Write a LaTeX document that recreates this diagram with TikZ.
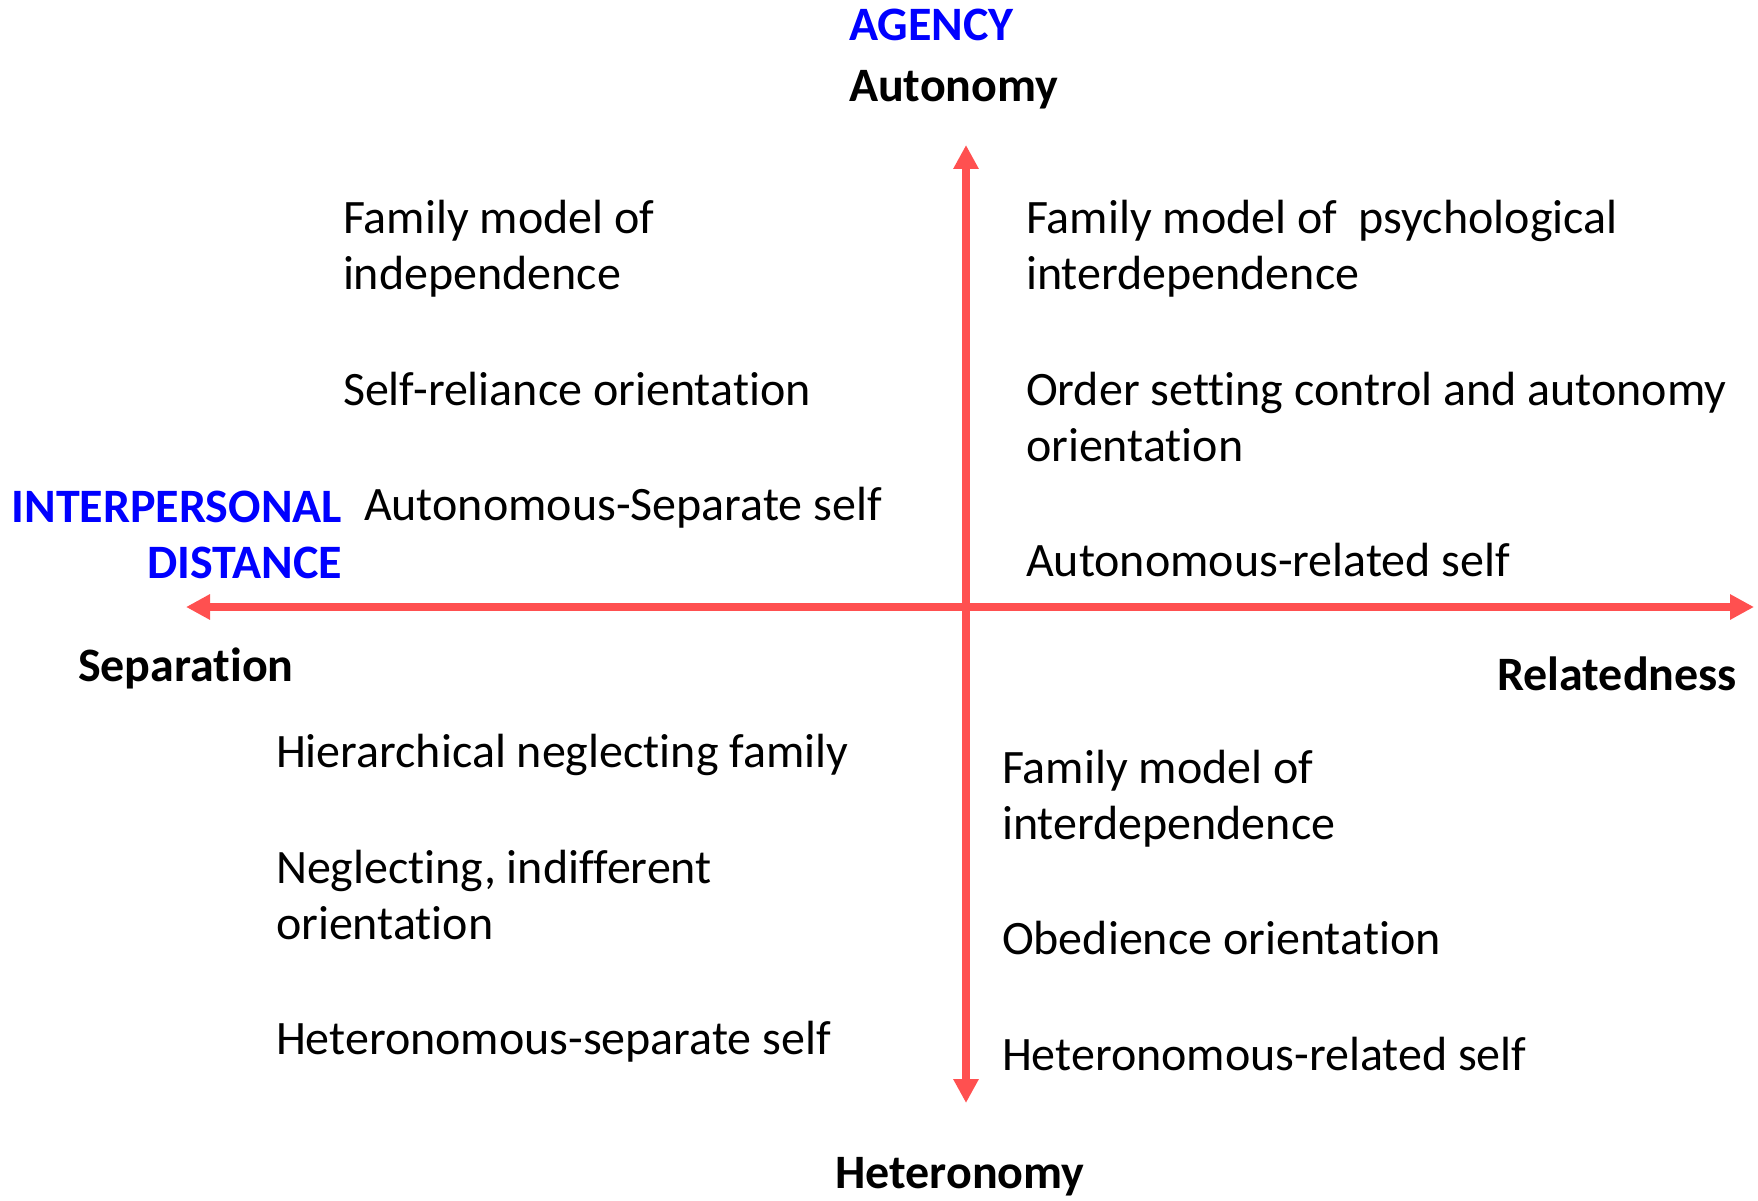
\documentclass[tikz,border=0pt]{standalone}
\usepackage{fontspec}
\setmainfont{Carlito}[Ligatures=NoCommon]
\usetikzlibrary{arrows.meta}
\definecolor{axisred}{RGB}{255,80,80}
\definecolor{dimblue}{RGB}{0,0,255}
\begin{document}
\begin{tikzpicture}[x=1pt,y=-1pt,
  axis/.style={draw=axisred, line width=7.5pt,
    {Triangle[length=24pt,width=24pt]}-{Triangle[length=24pt,width=24pt]}},
  body/.style={inner sep=0pt, outer sep=0pt, anchor=base west, align=left,
    font=\fontsize{48}{56}\selectfont},
  head/.style={body, font=\fontsize{48}{56}\selectfont\bfseries},
  dimension/.style={head, text=dimblue}]
\useasboundingbox (0,0) rectangle (1758,1201);

% axis end points
\coordinate (top) at (966,145);
\coordinate (bottom) at (966,1103);
\coordinate (left) at (186,607);
\coordinate (right) at (1754,607);

\draw[axis] (bottom) -- (top);
\draw[axis] (left) -- (right);

% dimension titles and pole labels (multi-line nodes sit on their last baseline)
\node[dimension] (agency) at (849,41) {AGENCY};
\node[head] (autonomy) at (849,102) {Autonomy};
\node[dimension, anchor=base east, align=right] (distance) at (342,578) {INTERPERSONAL\\DISTANCE};
\node[head] (separation) at (78,681) {Separation};
\node[head, anchor=base east] (relatedness) at (1737,690) {Relatedness};
\node[head, anchor=base] (heteronomy) at (960,1188) {Heteronomy};

% upper left quadrant
\node[body] (indep) at (343,289) {Family model of\\independence};
\node[body] (selfrel) at (343,405) {Self-reliance orientation};
\node[body] (autsep) at (364,520) {Autonomous-Separate self};

% upper right quadrant
\node[body] (psyinter) at (1026,289) {Family model of\ \ psychological\\interdependence};
\node[body] (order) at (1026,461) {Order setting control and autonomy\\orientation};
\node[body] (autrel) at (1026,576) {Autonomous-related self};

% lower left quadrant
\node[body] (hier) at (276,767) {Hierarchical neglecting family};
\node[body] (neglect) at (276,939) {Neglecting, indifferent\\orientation};
\node[body] (hetsep) at (276,1054) {Heteronomous-separate self};

% lower right quadrant
\node[body] (inter) at (1002,839) {Family model of\\interdependence};
\node[body] (obed) at (1002,954) {Obedience orientation};
\node[body] (hetrel) at (1002,1070) {Heteronomous-related self};
\end{tikzpicture}
\end{document}
